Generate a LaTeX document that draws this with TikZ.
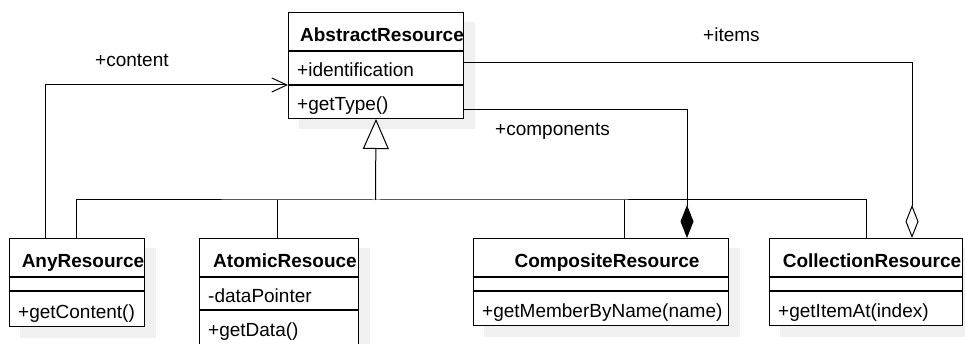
\documentclass[tikz,border=0pt]{standalone}
\usepackage{fontspec}
\setmainfont{Liberation Sans}
\usetikzlibrary{arrows.meta,calc,backgrounds}
\definecolor{shade}{RGB}{240,240,240}
\begin{document}
\begin{tikzpicture}[x=1pt,y=-1pt,
  box/.style={draw,line width=1pt,fill=white,inner sep=0pt,anchor=north west,minimum width=#1},
  ttl/.style={font=\fontsize{19pt}{23pt}\selectfont\bfseries,inner sep=0pt,anchor=base},
  txt/.style={font=\fontsize{19pt}{23pt}\selectfont,inner sep=0pt,anchor=base west},
  lbl/.style={font=\fontsize{19pt}{23pt}\selectfont,inner sep=0pt,anchor=base west},
  conn/.style={line width=1pt,line join=miter},
  shadowbox/.style={fill=shade}
]
\useasboundingbox (0,0) rectangle (965,344);

% ---- class boxes (title / attributes / operations) ----
\node[box=175pt,minimum height=38pt] (absT) at (288,12) {};
\node[box=175pt,minimum height=33pt] (absA) at (absT.south west) {};
\node[box=175pt,minimum height=33pt] (absM) at (absA.south west) {};

\node[box=135pt,minimum height=38pt] (anyT) at (9,238) {};
\node[box=135pt,minimum height=13pt] (anyA) at (anyT.south west) {};
\node[box=135pt,minimum height=35pt] (anyM) at (anyA.south west) {};

\node[box=159pt,minimum height=38pt] (atoT) at (199,238) {};
\node[box=159pt,minimum height=32pt] (atoA) at (atoT.south west) {};
\node[box=159pt,minimum height=34pt] (atoM) at (atoA.south west) {};

\node[box=255pt,minimum height=38pt] (comT) at (473,238) {};
\node[box=255pt,minimum height=13pt] (comA) at (comT.south west) {};
\node[box=255pt,minimum height=34pt] (comM) at (comA.south west) {};

\node[box=193pt,minimum height=38pt] (colT) at (769,238) {};
\node[box=193pt,minimum height=13pt] (colA) at (colT.south west) {};
\node[box=193pt,minimum height=34pt] (colM) at (colA.south west) {};

% ---- drop shadows behind the boxes ----
\begin{scope}[on background layer]
  \foreach \t/\b in {absT/absM,anyT/anyM,atoT/atoM,comT/comM,colT/colM}
    \fill[shadowbox] ([shift={(10.5pt,-10.5pt)}]\t.north west) rectangle ([shift={(10.5pt,-10.5pt)}]\b.south east);
\end{scope}

% ---- texts ----
\begin{scope}
  \clip (absT.north west) rectangle (absT.south east);
  \node[ttl] (absTx) at ([xshift=6pt,yshift=-10.5pt]absT.center) {AbstractResource};
\end{scope}
\node[txt] (absAx) at ([xshift=9pt,yshift=-9pt]absA.west) {+identification};
\node[txt] (absMx) at ([xshift=9pt,yshift=-9pt]absM.west) {+getType()};

\node[ttl] (anyTx) at ([xshift=6pt,yshift=-10.5pt]anyT.center) {AnyResource};
\node[txt] (anyMx) at ([xshift=9pt,yshift=-9pt]anyM.west) {+getContent()};

\node[ttl] (atoTx) at ([xshift=6pt,yshift=-10.5pt]atoT.center) {AtomicResouce};
\node[txt] (atoAx) at ([xshift=9pt,yshift=-9pt]atoA.west) {-dataPointer};
\node[txt] (atoMx) at ([xshift=9pt,yshift=-9pt]atoM.west) {+getData()};

\node[ttl] (comTx) at ([xshift=6pt,yshift=-10.5pt]comT.center) {CompositeResource};
\node[txt] (comMx) at ([xshift=9pt,yshift=-9pt]comM.west) {+getMemberByName(name)};

\node[ttl] (colTx) at ([xshift=6pt,yshift=-10.5pt]colT.center) {CollectionResource};
\node[txt] (colMx) at ([xshift=9pt,yshift=-9pt]colM.west) {+getItemAt(index)};

% ---- generalization bus ----
\coordinate (bus) at (375.5,200);
\draw[conn] ([xshift=67pt]anyT.north west) |- (bus) -| ([xshift=97pt]colT.north west);
\draw[conn] ([xshift=78pt]atoT.north west) -- ([xshift=78pt]atoT.north west |- bus);
\draw[conn] ([xshift=151pt]comT.north west) -- ([xshift=151pt]comT.north west |- bus);
\draw[conn,-{Triangle[length=30pt,width=26pt,fill=white,line width=1pt]}] (bus) -- (absM.south);

% ---- associations ----
\draw[conn,-{Straight Barb[length=15pt,width=14pt,line width=1pt]}]
  ([xshift=36pt]anyT.north west) |- (absM.north west);
\draw[conn,-{Diamond[length=33pt,width=13pt,line width=1pt]}]
  ([yshift=-8pt]absM.east) -| ([xshift=214pt]comT.north west);
\draw[conn,-{Diamond[length=33pt,width=13pt,fill=white,line width=1pt]}]
  ([yshift=5pt]absA.east) -| ([xshift=143pt]colT.north west);

% ---- role labels ----
\node[lbl] (lcontent) at (95,67) {+content};
\node[lbl] (litems) at (703,42) {+items};
\node[lbl] (lcomp) at (495,136) {+components};
\end{tikzpicture}
\end{document}
